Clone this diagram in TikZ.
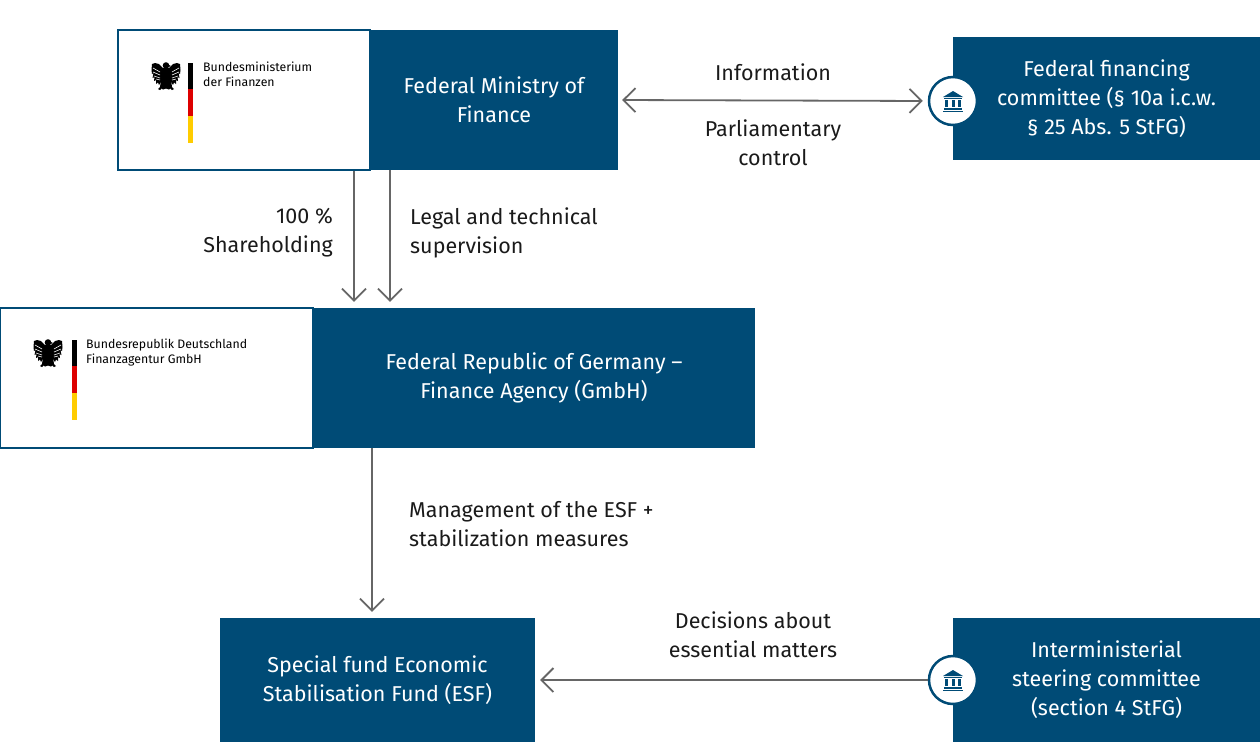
\documentclass[tikz,border=0pt]{standalone}
\usepackage{fontspec}
\setmainfont{Fira Sans}
\usetikzlibrary{arrows.meta,positioning,calc}
\definecolor{bblue}{HTML}{004B76}
\definecolor{agray}{HTML}{666666}
\definecolor{txt}{HTML}{1A1A1A}
\definecolor{dred}{HTML}{DD0000}
\definecolor{dgold}{HTML}{FFCC00}
\tikzset{
  bluebox/.style={fill=bblue, draw=none, text=white, align=center, font=\fontsize{21.5}{29}\selectfont, inner sep=0pt},
  logobox/.style={fill=white, draw=bblue, line width=2pt, inner sep=0pt},
  lbl/.style={text=txt, font=\fontsize{21.5}{29}\selectfont, inner sep=0pt},
  logotxt/.style={text=black, font=\fontsize{12.3}{15}\selectfont, align=left, anchor=north west, inner sep=0pt},
  tip/.tip={Straight Barb[length=12pt,width=24pt,line width=1.8pt]},
  arr/.style={draw=agray, line width=1.8pt, -tip},
  iconcirc/.style={circle, fill=white, draw=bblue, line width=2.5pt, minimum size=48pt, inner sep=0pt},
}
\newcommand{\eagle}[1]{%
  \begin{scope}[shift={#1}]
    % simplified federal eagle
    \fill[black] (0,-10.5) circle (3.3);
    \fill[black] (2,-11.5) -- (5,-10) -- (2.5,-9) -- cycle;
    % body and tail
    \fill[black] (-4,-8) -- (4,-8) -- (5,4) -- (6,11) -- (3,13.5) -- (0,12.5) -- (-3,13.5) -- (-6,11) -- (-5,4) -- cycle;
    % left wing with feathers
    \fill[black] (-3,-8) -- (-7,-12) -- (-11,-13) -- (-14,-12) -- (-14.5,-6)
      -- (-14,-2) -- (-12.5,-3) -- (-13.5,2) -- (-11.5,1) -- (-12,5) -- (-10,4) -- (-10,8) -- (-8,6.5) -- (-7,9) -- (-5,6) -- cycle;
    % right wing with feathers
    \fill[black] (3,-8) -- (7,-12) -- (11,-13) -- (14,-12) -- (14.5,-6)
      -- (14,-2) -- (12.5,-3) -- (13.5,2) -- (11.5,1) -- (12,5) -- (10,4) -- (10,8) -- (8,6.5) -- (7,9) -- (5,6) -- cycle;
    % feather lines
    \draw[white, line width=0.6pt] (-13,-8) -- (-6,-4) (-13,-4) -- (-6,-1) (-12,0) -- (-6,2) (-10,3) -- (-6,4);
    \draw[white, line width=0.6pt] (13,-8) -- (6,-4) (13,-4) -- (6,-1) (12,0) -- (6,2) (10,3) -- (6,4);
    % legs
    \fill[black] (-4,9) -- (-8,13) -- (-6,14) -- (-3,11) -- cycle;
    \fill[black] (4,9) -- (8,13) -- (6,14) -- (3,11) -- cycle;
  \end{scope}}
\newcommand{\flagbar}[1]{%
  \begin{scope}[shift={#1}]
    \fill[black] (0,0) rectangle (5,26);
    \fill[dred] (0,26) rectangle (5,53);
    \fill[dgold] (0,53) rectangle (5,80);
  \end{scope}}
\newcommand{\bank}[1]{%
  \begin{scope}[shift={#1}]
    \fill[bblue] (-10,-4) -- (0,-10) -- (10,-4) -- cycle;
    \fill[bblue] (-9,-3.5) rectangle (9,-2);
    \fill[bblue] (-8,-1) rectangle (-5,6);
    \fill[bblue] (-1.5,-1) rectangle (1.5,6);
    \fill[bblue] (5,-1) rectangle (8,6);
    \fill[bblue] (-9,7) rectangle (9,8.5);
    \fill[bblue] (-10,9.5) rectangle (10,11);
  \end{scope}}
\begin{document}
\begin{tikzpicture}[x=1pt,y=-1pt]
\useasboundingbox (0,0) rectangle (1260,742);
% boxes
\node[logobox, minimum width=252pt, minimum height=140pt] (bmflogo) at (244,100) {};
\node[bluebox, minimum width=248pt, minimum height=140pt] (bmf) at (494,100) {Federal Ministry of\\Finance};
\node[bluebox, minimum width=307pt, minimum height=123pt] (ffc) at (1106.5,98.5) {Federal financing\\committee (§ 10a i.c.w.\\§ 25 Abs. 5 StFG)};
\node[logobox, minimum width=313pt, minimum height=140pt] (falogo) at (156.5,378) {};
\node[bluebox, minimum width=442pt, minimum height=140pt] (fa) at (534,378) {Federal Republic of Germany –\\Finance Agency (GmbH)};
\node[bluebox, minimum width=315pt, minimum height=124pt] (esf) at (377.5,680) {Special fund Economic\\Stabilisation Fund (ESF)};
\node[bluebox, minimum width=307pt, minimum height=124pt] (isc) at (1106.5,680) {Interministerial\\steering committee\\(section 4 StFG)};
% logos
\eagle{(166,76)}
\flagbar{(188,63)}
\node[logotxt] (bmfname) at (203,62) {Bundesministerium\\der Finanzen};
\eagle{(48,353)}
\flagbar{(72,340)}
\node[logotxt] (faname) at (86,339) {Bundesrepublik Deutschland\\Finanzagentur GmbH};
% icon circles
\node[iconcirc] (c1) at (953,101) {};
\bank{(953,101)}
\node[iconcirc] (c2) at (953,680) {};
\bank{(953,680)}
% connectors
\draw[arr, tip-tip, shorten <=4pt, shorten >=5pt] (bmf.east) -- (c1.west);
\draw[arr, shorten >=6pt] (bmflogo.south -| 354,0) -- (fa.north -| 354,0);
\draw[arr, shorten >=6pt] (bmf.south -| 390,0) -- (fa.north -| 390,0);
\draw[arr, shorten >=6pt] (fa.south -| 372,0) -- (esf.north -| 372,0);
\draw[arr, shorten >=5pt] (c2.west) -- (esf.east);
% labels
\node[lbl] (linfo) at (773,72) {Information};
\node[lbl, align=center] (lparl) at (773,143) {Parliamentary\\control};
\node[lbl, align=right, anchor=east] (lshare) at (333,233) {100 \%\\Shareholding};
\node[lbl, align=left, anchor=west] (lsup) at (410,233) {Legal and technical\\supervision};
\node[lbl, align=left, anchor=west] (lman) at (409,524) {Management of the ESF +\\stabilization measures};
\node[lbl, align=center] (ldec) at (753,635) {Decisions about\\essential matters};
\end{tikzpicture}
\end{document}
